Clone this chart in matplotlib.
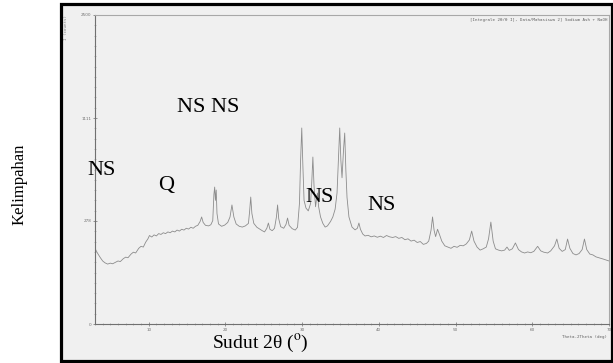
import numpy as np
import matplotlib
matplotlib.use('Agg')
import matplotlib.pyplot as plt
from matplotlib.patches import Rectangle

plt.rcParams['mathtext.fontset'] = 'stix'

# Pola difraksi sinar-X (2theta, intensitas cacah), 10 titik per baris
two_theta = [3.0, 3.2, 3.4, 3.7, 4.0, 4.3, 4.65, 5.0, 5.3, 5.7,
             6.0, 6.3, 6.7, 7.0, 7.3, 7.7, 8.0, 8.3, 8.7, 9.0,
             9.3, 9.6, 9.9, 10.1, 10.4, 10.7, 11.0, 11.3, 11.6, 11.9,
             12.2, 12.5, 12.8, 13.1, 13.4, 13.7, 14.0, 14.3, 14.6, 14.9,
             15.2, 15.5, 15.8, 16.1, 16.4, 16.7, 16.9, 17.1, 17.4, 17.8,
             18.1, 18.35, 18.5, 18.6, 18.7, 18.8, 18.9, 19.1, 19.5, 19.9,
             20.3, 20.6, 20.85, 21.1, 21.4, 21.8, 22.2, 22.6, 23.0, 23.15,
             23.3, 23.45, 23.7, 24.1, 24.5, 24.8, 25.1, 25.4, 25.6, 25.8,
             26.1, 26.4, 26.65, 26.8, 26.95, 27.2, 27.6, 27.9, 28.1, 28.3,
             28.7, 29.1, 29.4, 29.65, 29.8, 29.95, 30.1, 30.25, 30.5, 30.8,
             31.1, 31.25, 31.4, 31.55, 31.75, 31.9, 32.0, 32.15, 32.4, 32.7,
             33.0, 33.3, 33.7, 34.0, 34.3, 34.55, 34.75, 34.9, 35.05, 35.2,
             35.4, 35.55, 35.7, 35.85, 36.1, 36.5, 36.9, 37.2, 37.4, 37.6,
             37.9, 38.2, 38.6, 39.0, 39.4, 39.8, 40.2, 40.6, 41.0, 41.4,
             41.8, 42.2, 42.6, 43.0, 43.4, 43.8, 44.2, 44.6, 45.0, 45.4,
             45.8, 46.2, 46.5, 46.8, 47.0, 47.2, 47.4, 47.65, 47.9, 48.2,
             48.6, 49.0, 49.4, 49.8, 50.2, 50.6, 51.0, 51.4, 51.8, 52.1,
             52.4, 52.8, 53.2, 53.6, 54.0, 54.3, 54.6, 54.9, 55.2, 55.6,
             56.0, 56.4, 56.7, 57.0, 57.4, 57.8, 58.2, 58.6, 59.0, 59.4,
             59.8, 60.2, 60.7, 61.1, 61.5, 62.0, 62.4, 62.9, 63.2, 63.5,
             63.9, 64.3, 64.6, 64.9, 65.3, 65.7, 66.1, 66.5, 66.8, 67.1,
             67.5, 67.9, 68.3, 68.8, 69.3, 70.0]
intensity = [150, 138, 128, 115, 104, 98, 94, 97, 95, 100,
             104, 102, 112, 117, 115, 128, 135, 132, 150, 158,
             155, 175, 190, 205, 198, 208, 203, 214, 210, 218,
             214, 222, 218, 226, 222, 231, 226, 235, 231, 240,
             236, 245, 240, 250, 255, 275, 300, 270, 255, 252,
             258, 280, 440, 491, 400, 470, 320, 262, 250, 256,
             270, 300, 371, 300, 262, 250, 246, 252, 265, 330,
             422, 320, 265, 245, 235, 228, 222, 240, 267, 235,
             228, 240, 300, 371, 290, 248, 240, 260, 294, 255,
             238, 231, 245, 380, 700, 1006, 650, 400, 352, 335,
             380, 520, 730, 500, 360, 420, 449, 360, 300, 265,
             246, 252, 275, 300, 345, 450, 750, 1006, 700, 560,
             800, 955, 620, 420, 300, 246, 232, 240, 267, 235,
             212, 203, 206, 199, 203, 197, 202, 196, 205, 199,
             196, 200, 192, 196, 186, 190, 180, 184, 174, 178,
             166, 170, 180, 230, 300, 230, 200, 235, 210, 180,
             160, 155, 150, 158, 154, 162, 160, 168, 185, 226,
             180, 155, 143, 148, 155, 190, 272, 180, 148, 143,
             140, 143, 155, 142, 148, 172, 145, 136, 132, 136,
             133, 138, 158, 140, 135, 132, 140, 160, 189, 150,
             138, 145, 189, 150, 130, 125, 130, 145, 189, 145,
             128, 125, 118, 114, 110, 104]

x_ticks = [10, 20, 30, 40, 50, 60, 70]
y_ticks = [0, 278, 1111, 2500]

# label puncak
peak_labels = ['NS', 'Q', 'NS NS', 'NS', 'NS']

W, H = 613, 363
fig = plt.figure(figsize=(W / 100, H / 100), dpi=100)
fig.patch.set_facecolor('white')

# bingkai hasil pindaian
fig.patches.append(Rectangle((61 / W, 2 / H), 551 / W, 357 / H, transform=fig.transFigure,
                             facecolor='#f0f0f0', edgecolor='black', linewidth=2.3, zorder=-5))

ax = fig.add_axes([95 / W, 39 / H, 514 / W, 309 / H])
ax.set_facecolor('none')
ax.set_yscale('function', functions=(lambda v: np.sqrt(np.clip(v, 0, None)), np.square))
ax.plot(two_theta, intensity, color='#8c8c8c', lw=0.6)
ax.set_xlim(3, 70)
ax.set_ylim(0, 2500)

ax.set_xticks(x_ticks)
ax.set_xticks(np.arange(3, 71, 1), minor=True)
ax.set_yticks(y_ticks)
ax.set_yticks(np.linspace(0, 50, 31) ** 2, minor=True)
ax.set_xticklabels([str(v) for v in x_ticks])
ax.set_yticklabels([str(v) for v in y_ticks])
ax.tick_params(axis='both', which='major', labelsize=3, length=2.5, width=0.5,
               color='#707070', labelcolor='#707070', pad=1.5, direction='inout')
ax.tick_params(axis='both', which='minor', length=1.2, width=0.4, color='#909090',
               direction='inout')
for s in ax.spines.values():
    s.set_color('#a8a8a8')
    s.set_linewidth(0.8)
ax.spines['left'].set_color('#707070')
ax.spines['bottom'].set_color('#707070')

# teks kecil dari perangkat lunak difraktometer
fig.text(607 / W, 1 - 20 / H, '[Integrale 2\u03b8/\u03b8 I], Data/Mahasiswa 2] Sodium Ash + NaOH',
         ha='right', va='center', fontsize=3, family='DejaVu Sans Mono', color='#606060')
fig.text(607 / W, 1 - 337 / H, 'Theta-2Theta (deg)', ha='right', va='center',
         fontsize=3, family='DejaVu Sans Mono', color='#606060')
fig.text(66 / W, 1 - 28 / H, 'I (counts)', rotation=90, ha='center', va='center',
         fontsize=3, family='DejaVu Sans Mono', color='#808080')

serif = 'Liberation Serif'
label_pos = [(102, 170), (166, 186), (208, 108), (320, 198), (382, 206)]
for lab, (px, py) in zip(peak_labels, label_pos):
    fig.text(px / W, 1 - py / H, lab, ha='center', va='center', fontsize=16, family=serif)

fig.text(260 / W, 1 - 343 / H, 'Sudut 2\u03b8 ($^{\\mathrm{o}}$)', ha='center', va='center',
         fontsize=14, family=serif)
fig.text(20 / W, 1 - 184 / H, 'Kelimpahan', rotation=90, ha='center', va='center',
         fontsize=12, family=serif)

fig.savefig('out.png', dpi=100)
